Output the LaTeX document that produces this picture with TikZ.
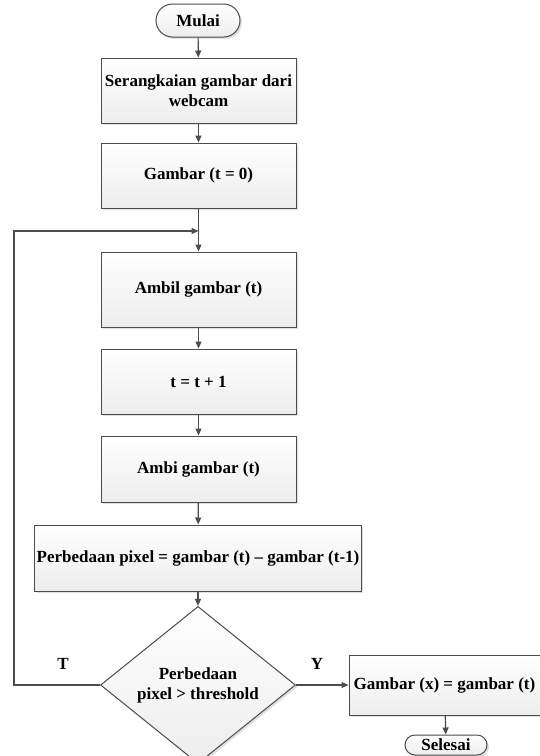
\documentclass[tikz,border=0pt]{standalone}
\usepackage{fontspec}
\setmainfont{Liberation Serif}
\usetikzlibrary{arrows.meta,positioning,shapes.geometric,shapes.misc,shadows}

\tikzset{
  proses/.style={draw=black!70, line width=1pt, rectangle, top color=white, bottom color=black!7,
    drop shadow={shadow xshift=2pt, shadow yshift=-2pt, fill=black!12, opacity=1},
    minimum width=195pt, minimum height=65pt, align=center, inner sep=2pt, font=\bfseries\fontsize{17}{20}\selectfont},
  terminal/.style={proses, rounded rectangle, minimum width=88pt, minimum height=33pt},
  keputusan/.style={proses, diamond, minimum width=195pt, minimum height=142pt, inner sep=0pt},
  panah/.style={draw=black!70, line width=1.2pt, -{Triangle[length=7pt,width=6pt]}},
  garis/.style={draw=black!70, line width=1.2pt},
  label/.style={font=\bfseries\fontsize{17}{20}\selectfont}
}

\begin{document}
\begin{tikzpicture}[x=1pt,y=-1pt]
  \useasboundingbox (0,0) rectangle (539,756);

  % Alur utama
  \node[terminal] (mulai) at (198,20.5) {Mulai};
  \node[proses] (rangkai) at (198.5,90.5) {Serangkaian gambar dari\\webcam};
  \node[proses] (awal) at (198.5,175.5) {Gambar (t = 0)};
  \node[proses, minimum height=75pt] (ambil) at (198.5,289.5) {Ambil gambar (t)};
  \node[proses] (tambah) at (198.5,381.5) {t = t + 1};
  \node[proses, minimum height=66pt] (ambi) at (198.5,469) {Ambi gambar (t)};
  \node[proses, minimum width=324pt, minimum height=66pt] (beda) at (198,558) {Perbedaan pixel = gambar (t) -- gambar (t-1)};
  \node[keputusan] (cek) at (198,685) {Perbedaan\\pixel > threshold};
  \node[proses, minimum width=191pt, minimum height=60pt] (hasil) at (444.5,685) {Gambar (x) = gambar (t)};
  \node[terminal, minimum width=86pt, minimum height=20pt, inner ysep=0pt] (selesai) at (446,745) {Selesai};

  \coordinate (gabung) at (198.5,231);
  \coordinate (kiri) at (14,685);

  % Panah
  \draw[panah] (mulai) -- (rangkai);
  \draw[panah] (rangkai) -- (awal);
  \draw[garis] (awal) -- (gabung);
  \draw[panah] (gabung) -- (ambil);
  \draw[panah] (ambil) -- (tambah);
  \draw[panah] (tambah) -- (ambi);
  \draw[panah] (ambi) -- (beda);
  \draw[panah] (beda) -- (cek);
  \draw[panah] (cek) -- (hasil);
  \draw[panah] (hasil) -- (selesai);
  % Kembali ke atas
  \draw[panah] (cek.west) -- (kiri) |- (gabung);

  \node[label] (t) at (63,664) {T};
  \node[label] (y) at (317,664) {Y};
\end{tikzpicture}
\end{document}
